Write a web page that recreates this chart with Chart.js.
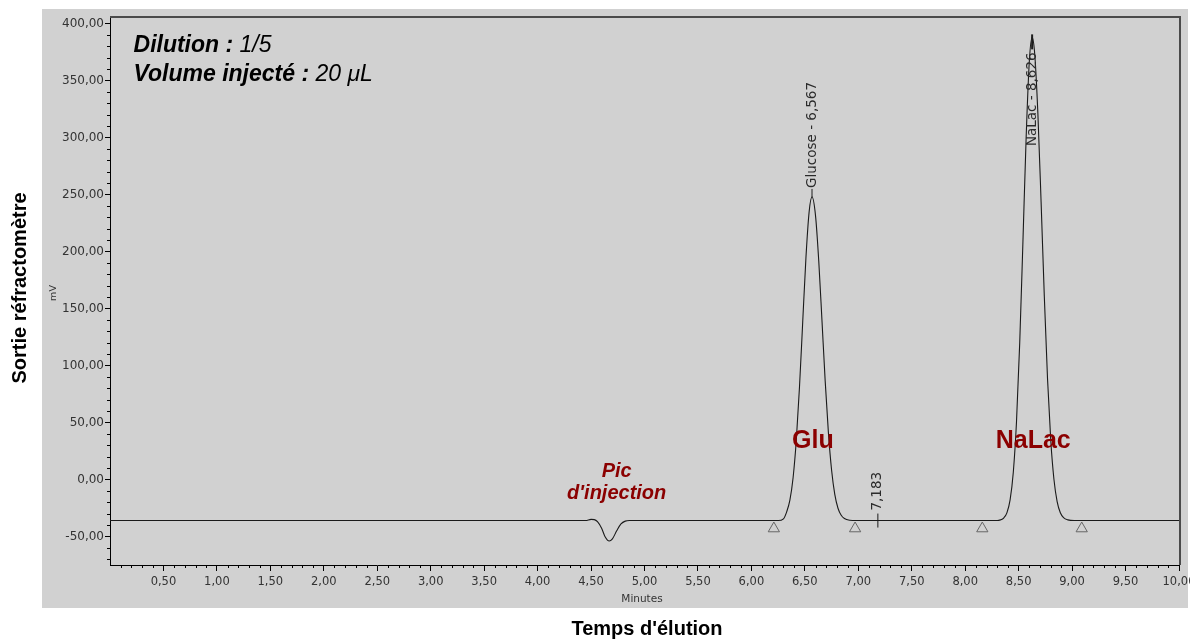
<!DOCTYPE html>
<html>
<head>
<meta charset="utf-8">
<script src="https://cdn.jsdelivr.net/npm/chart.js@4.4.1/dist/chart.umd.min.js"></script>
<style>
  html, body { margin: 0; padding: 0; background: #ffffff; }
  canvas { display: block; }
</style>
</head>
<body>
<canvas id="c" width="1190" height="641"></canvas>
<script>
// ---- Data ----
const elutionTimes = [0.00, 4.45, 4.50, 4.53, 4.56, 4.60, 4.63, 4.67, 4.70, 4.74, 4.78, 4.82, 4.86,
  6.25, 6.30, 6.33, 6.36, 6.39, 6.42, 6.45, 6.48, 6.51, 6.54, 6.567, 6.60, 6.63, 6.66, 6.69, 6.72,
  6.75, 6.78, 6.81, 6.84, 6.87, 6.92, 6.98,
  8.30, 8.33, 8.36, 8.39, 8.42, 8.45, 8.48, 8.51, 8.54, 8.57, 8.60, 8.626, 8.65, 8.68, 8.71, 8.74,
  8.77, 8.80, 8.83, 8.86, 8.89, 8.92, 8.96, 9.02, 10.00];
const signalMV = [-36.0, -36.0, -35.0, -35.2, -37.0, -43.0, -50.0, -54.0, -52.0, -45.0, -39.0, -36.5, -36.0,
  -36.0, -34.5, -28.4, -18.1, 1.6, 34.4, 81.4, 138.2, 194.3, 234.9, 248.0, 231.4, 191.9, 139.9, 86.8, 41.6,
  8.4, -13.0, -25.2, -31.4, -34.2, -35.7, -36.0,
  -36.0, -35.4, -33.8, -29.3, -17.9, 6.4, 50.9, 119.9, 208.6, 299.8, 367.2, 388.0, 373.8, 320.9, 243.5, 160.8,
  88.6, 34.9, 0.3, -19.3, -29.1, -33.4, -35.4, -36.0, -36.0];

const integrationMarkTimes = [6.21, 6.97, 8.16, 9.09];
const integrationMarkLevel = -43;

const peakTimes = [6.567, 8.626];
const peakHeights = [248, 388];
const peakTexts = ["Glucose - 6,567", "NaLac - 8,626"];

const minorPeakTime = 7.183;
const minorPeakLevel = -36;
const minorPeakText = "7,183";

const xTickValues = [0.5, 1.0, 1.5, 2.0, 2.5, 3.0, 3.5, 4.0, 4.5, 5.0, 5.5, 6.0, 6.5, 7.0, 7.5, 8.0, 8.5, 9.0, 9.5, 10.0];
const yTickValues = [-50, 0, 50, 100, 150, 200, 250, 300, 350, 400];

const fmt = v => v.toFixed(2).replace('.', ',');

// ---- Plugins ----
const backgroundPlugin = {
  id: 'bg',
  beforeDraw(chart) {
    const ctx = chart.ctx;
    ctx.save();
    ctx.fillStyle = '#ffffff';
    ctx.fillRect(0, 0, chart.width, chart.height);
    ctx.fillStyle = '#d1d1d1';
    ctx.fillRect(42, 9, 1146, 599);
    ctx.restore();
  }
};

const decorPlugin = {
  id: 'decor',
  afterDatasetsDraw(chart) {
    const ctx = chart.ctx;
    const xs = chart.scales.x, ys = chart.scales.y;
    const area = chart.chartArea;
    ctx.save();

    // top/right frame
    ctx.strokeStyle = '#4a4a4a';
    ctx.lineWidth = 2;
    ctx.beginPath();
    ctx.moveTo(area.left, area.top - 1);
    ctx.lineTo(area.right + 1, area.top - 1);
    ctx.lineTo(area.right + 1, area.bottom);
    ctx.stroke();

    // minor ticks
    ctx.strokeStyle = '#000';
    ctx.lineWidth = 1;
    ctx.beginPath();
    for (let i = 1; i < 100; i++) {
      if (i % 5 === 0) continue;
      const px = Math.round(xs.getPixelForValue(i / 10)) + 0.5;
      ctx.moveTo(px, area.bottom);
      ctx.lineTo(px, area.bottom + 3);
    }
    for (let v = -70; v <= 400; v += 10) {
      if (v % 50 === 0) continue;
      const py = Math.round(ys.getPixelForValue(v)) + 0.5;
      ctx.moveTo(area.left, py);
      ctx.lineTo(area.left - 3, py);
    }
    ctx.stroke();

    // peak labels
    ctx.fillStyle = '#2a2a2a';
    ctx.strokeStyle = '#1c1c1c';
    ctx.font = '13.5px "DejaVu Sans"';
    ctx.textBaseline = 'middle';
    peakTexts.forEach((txt, i) => {
      const px = xs.getPixelForValue(peakTimes[i]);
      const py = ys.getPixelForValue(peakHeights[i]);
      ctx.save();
      if (py - 130 > area.top) {
        ctx.lineWidth = 1;
        ctx.beginPath();
        ctx.moveTo(px, py);
        ctx.lineTo(px, py - 8);
        ctx.stroke();
        ctx.translate(px, py - 9);
        ctx.rotate(-Math.PI / 2);
        ctx.textAlign = 'left';
        ctx.fillText(txt, 0, 0);
      } else {
        ctx.lineWidth = 2;
        ctx.beginPath();
        ctx.moveTo(px, py - 3);
        ctx.lineTo(px, py + 12);
        ctx.stroke();
        ctx.translate(px, py + 15);
        ctx.rotate(-Math.PI / 2);
        ctx.textAlign = 'right';
        ctx.fillText(txt, 0, 0);
      }
      ctx.restore();
    });
    {
      const px = xs.getPixelForValue(minorPeakTime);
      const py = ys.getPixelForValue(minorPeakLevel);
      ctx.save();
      ctx.lineWidth = 1;
      ctx.beginPath();
      ctx.moveTo(px, py + 7);
      ctx.lineTo(px, py - 7);
      ctx.stroke();
      ctx.translate(px, py - 10);
      ctx.rotate(-Math.PI / 2);
      ctx.textAlign = 'left';
      ctx.fillText(minorPeakText, 0, 0);
      ctx.restore();
    }

    // annotations in the plot
    const ff = '"Liberation Sans", Arial, sans-serif';
    ctx.textBaseline = 'alphabetic';
    ctx.textAlign = 'left';
    ctx.fillStyle = '#000';
    const ax = xs.getPixelForValue(0.22);
    const drawMixed = (a, b, x, y) => {
      ctx.font = 'italic bold 23px ' + ff;
      ctx.fillText(a, x, y);
      const w = ctx.measureText(a).width;
      ctx.font = 'italic 23px ' + ff;
      ctx.fillText(b, x + w, y);
    };
    drawMixed('Dilution : ', '1/5', ax, ys.getPixelForValue(375.5));
    drawMixed('Volume injecté : ', '20 \u03BCL', ax, ys.getPixelForValue(350));

    ctx.fillStyle = '#8b0000';
    ctx.textAlign = 'center';
    ctx.font = 'bold 25px ' + ff;
    ctx.fillText('Glu', xs.getPixelForValue(6.575), ys.getPixelForValue(28));
    ctx.fillText('NaLac', xs.getPixelForValue(8.636), ys.getPixelForValue(28));
    ctx.font = 'italic bold 20px ' + ff;
    ctx.fillText('Pic', xs.getPixelForValue(4.74), ys.getPixelForValue(2.6));
    ctx.fillText("d'injection", xs.getPixelForValue(4.74), ys.getPixelForValue(-17));

    // axis titles and units
    ctx.fillStyle = '#000';
    ctx.font = 'bold 20px ' + ff;
    ctx.textAlign = 'center';
    ctx.fillText("Temps d'élution", 647, 635);
    ctx.save();
    ctx.translate(26, 288);
    ctx.rotate(-Math.PI / 2);
    ctx.fillText('Sortie réfractomètre', 0, 0);
    ctx.restore();

    ctx.fillStyle = '#333';
    ctx.font = '10.5px "DejaVu Sans"';
    ctx.fillText('Minutes', 642, 602);
    ctx.save();
    ctx.translate(54, 293);
    ctx.rotate(-Math.PI / 2);
    ctx.textBaseline = 'middle';
    ctx.font = '9.5px "DejaVu Sans"';
    ctx.fillText('mV', 0, 0);
    ctx.restore();

    ctx.restore();
  }
};

Chart.defaults.font.family = '"DejaVu Sans"';

new Chart(document.getElementById('c').getContext('2d'), {
  type: 'line',
  data: {
    datasets: [
      {
        label: 'Signal',
        data: elutionTimes.map((t, i) => ({ x: t, y: signalMV[i] })),
        borderColor: '#1a1a1a',
        borderWidth: 1.1,
        pointRadius: 0,
        cubicInterpolationMode: 'monotone',
        fill: false,
        order: 1
      },
      {
        type: 'scatter',
        label: 'Marks',
        data: integrationMarkTimes.map(t => ({ x: t, y: integrationMarkLevel })),
        pointStyle: 'triangle',
        pointRadius: 6.5,
        borderColor: '#666666',
        backgroundColor: 'rgba(0,0,0,0)',
        borderWidth: 1,
        showLine: false,
        order: 0
      }
    ]
  },
  options: {
    responsive: false,
    animation: false,
    devicePixelRatio: 1,
    layout: { padding: { top: 18, right: 11, left: 0, bottom: 0 } },
    plugins: { legend: { display: false }, tooltip: { enabled: false } },
    scales: {
      x: {
        type: 'linear',
        min: 0,
        max: 10,
        afterBuildTicks: s => { s.ticks = xTickValues.map(v => ({ value: v })); },
        afterFit: s => { s.height = 76; s.paddingLeft = 0; s.paddingRight = 0; },
        grid: { drawOnChartArea: false, drawTicks: true, tickLength: 6, color: '#000' },
        border: { color: '#000', width: 1 },
        ticks: { autoSkip: false, maxRotation: 0, padding: 4, color: '#333', font: { size: 11.5 }, callback: v => fmt(v) }
      },
      y: {
        type: 'linear',
        min: -75,
        max: 405,
        afterBuildTicks: s => { s.ticks = yTickValues.map(v => ({ value: v })); },
        afterFit: s => { s.width = 110; s.paddingTop = 0; s.paddingBottom = 0; },
        grid: { drawOnChartArea: false, drawTicks: true, tickLength: 5, color: '#000' },
        border: { color: '#000', width: 1 },
        ticks: { padding: 1, color: '#333', font: { size: 12 }, callback: v => fmt(v) }
      }
    }
  },
  plugins: [backgroundPlugin, decorPlugin]
});
</script>
</body>
</html>
